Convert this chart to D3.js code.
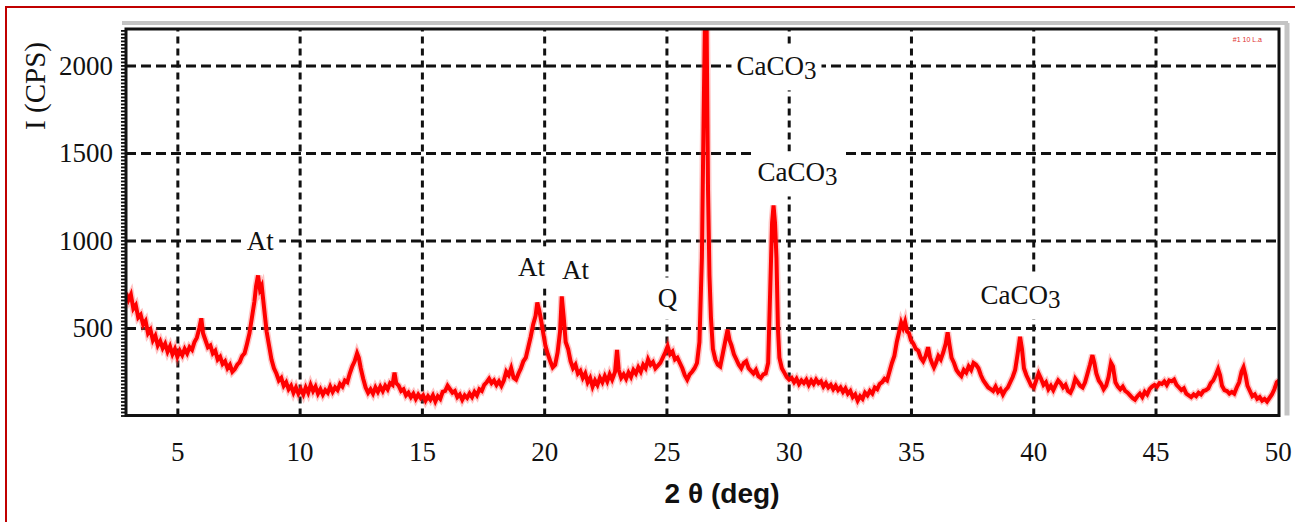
<!DOCTYPE html>
<html>
<head>
<meta charset="utf-8">
<script src="https://cdn.jsdelivr.net/npm/d3@7"></script>
<style>
  body { margin: 0; background: #fff; }
  svg { display: block; }
</style>
</head>
<body>
<div id="chart"></div>
<script>
// XRD scan: [2 theta (deg), intensity (CPS)]
const scan = [
  [2.90, 700], [3.00, 660], [3.10, 690], [3.20, 610], [3.30, 630], [3.40, 560], [3.50, 575], [3.60, 520],
  [3.70, 540], [3.80, 470], [3.90, 490], [4.00, 430], [4.10, 455], [4.20, 400], [4.30, 425], [4.40, 385],
  [4.50, 410], [4.60, 365], [4.70, 395], [4.80, 350], [4.90, 380], [5.00, 335], [5.10, 370], [5.20, 345],
  [5.30, 380], [5.40, 355], [5.50, 390], [5.60, 375], [5.70, 420], [5.80, 445], [5.90, 500], [5.98, 555],
  [6.05, 470], [6.15, 430], [6.25, 390], [6.35, 400], [6.45, 355], [6.55, 370], [6.65, 320], [6.75, 335],
  [6.85, 295], [6.95, 310], [7.05, 270], [7.15, 290], [7.25, 250], [7.35, 265], [7.45, 290], [7.55, 305],
  [7.65, 340], [7.75, 355], [7.85, 410], [7.95, 470], [8.05, 560], [8.15, 650], [8.22, 740], [8.30, 800],
  [8.38, 720], [8.45, 740], [8.55, 610], [8.65, 480], [8.75, 400], [8.85, 320], [8.95, 270], [9.05, 240],
  [9.15, 200], [9.25, 215], [9.35, 170], [9.45, 190], [9.55, 150], [9.65, 170], [9.75, 130], [9.85, 160],
  [9.95, 125], [10.05, 150], [10.15, 120], [10.25, 160], [10.35, 130], [10.45, 175], [10.55, 140], [10.65, 165],
  [10.75, 125], [10.85, 150], [10.95, 120], [11.05, 145], [11.15, 130], [11.25, 165], [11.35, 135], [11.45, 160],
  [11.55, 145], [11.65, 180], [11.75, 165], [11.85, 200], [11.95, 190], [12.05, 240], [12.15, 280], [12.25, 310],
  [12.35, 355], [12.42, 330], [12.50, 270], [12.60, 210], [12.70, 160], [12.80, 130], [12.90, 150], [13.00, 125],
  [13.10, 160], [13.20, 135], [13.30, 165], [13.40, 140], [13.50, 170], [13.60, 150], [13.70, 185], [13.80, 175],
  [13.88, 245], [13.95, 185], [14.05, 170], [14.15, 140], [14.25, 150], [14.35, 115], [14.45, 130], [14.55, 105],
  [14.65, 125], [14.75, 95], [14.85, 120], [14.95, 100], [15.05, 115], [15.15, 85], [15.25, 110], [15.35, 90],
  [15.45, 115], [15.55, 80], [15.65, 110], [15.75, 95], [15.85, 135], [15.95, 140], [16.05, 170], [16.15, 150],
  [16.25, 130], [16.35, 140], [16.45, 105], [16.55, 120], [16.65, 90], [16.75, 115], [16.85, 100], [16.95, 125],
  [17.05, 105], [17.15, 135], [17.25, 115], [17.35, 150], [17.45, 140], [17.55, 175], [17.65, 190], [17.75, 210],
  [17.85, 185], [17.95, 200], [18.05, 175], [18.15, 195], [18.25, 170], [18.35, 200], [18.45, 250], [18.55, 230],
  [18.65, 270], [18.75, 215], [18.85, 205], [18.95, 240], [19.05, 270], [19.15, 310], [19.25, 330], [19.35, 390],
  [19.45, 450], [19.55, 520], [19.65, 570], [19.72, 645], [19.80, 600], [19.88, 540], [19.95, 480], [20.05, 400],
  [20.15, 350], [20.25, 310], [20.35, 275], [20.45, 290], [20.55, 360], [20.65, 480], [20.72, 680], [20.80, 560],
  [20.88, 420], [20.98, 380], [21.08, 310], [21.18, 270], [21.28, 290], [21.38, 240], [21.48, 255], [21.58, 215],
  [21.68, 240], [21.78, 190], [21.88, 215], [21.98, 165], [22.08, 200], [22.18, 175], [22.28, 215], [22.38, 190],
  [22.48, 225], [22.58, 195], [22.68, 235], [22.78, 205], [22.90, 250], [22.98, 375], [23.05, 260], [23.15, 215],
  [23.25, 235], [23.35, 210], [23.45, 245], [23.55, 220], [23.65, 260], [23.75, 240], [23.85, 275], [23.95, 250],
  [24.05, 290], [24.15, 270], [24.25, 320], [24.35, 290], [24.45, 305], [24.55, 270], [24.65, 285], [24.75, 300],
  [24.85, 330], [24.95, 360], [25.05, 395], [25.15, 350], [25.25, 365], [25.35, 320], [25.45, 330], [25.55, 300],
  [25.65, 270], [25.75, 230], [25.85, 205], [25.95, 235], [26.05, 250], [26.15, 270], [26.25, 300], [26.35, 420],
  [26.45, 900], [26.52, 1700], [26.58, 2300], [26.64, 2300], [26.70, 1300], [26.76, 800], [26.82, 560], [26.90, 380],
  [27.00, 320], [27.10, 290], [27.20, 280], [27.30, 350], [27.40, 420], [27.50, 490], [27.58, 430], [27.66, 400],
  [27.76, 350], [27.86, 320], [27.96, 290], [28.06, 270], [28.16, 300], [28.26, 310], [28.36, 270], [28.46, 255],
  [28.56, 240], [28.66, 260], [28.76, 225], [28.86, 215], [28.96, 235], [29.06, 240], [29.16, 300], [29.24, 700],
  [29.32, 1100], [29.38, 1200], [29.44, 1100], [29.50, 900], [29.56, 500], [29.62, 330], [29.72, 270], [29.82, 245],
  [29.92, 220], [30.02, 205], [30.12, 215], [30.22, 190], [30.32, 210], [30.42, 180], [30.52, 200], [30.62, 185],
  [30.72, 205], [30.82, 175], [30.92, 200], [31.02, 180], [31.12, 205], [31.22, 185], [31.32, 195], [31.42, 165],
  [31.52, 185], [31.62, 160], [31.72, 175], [31.82, 150], [31.92, 170], [32.02, 145], [32.12, 160], [32.22, 135],
  [32.32, 155], [32.42, 125], [32.52, 140], [32.62, 105], [32.72, 120], [32.82, 85], [32.92, 110], [33.02, 95],
  [33.12, 130], [33.22, 115], [33.32, 140], [33.42, 125], [33.52, 160], [33.62, 150], [33.72, 180], [33.82, 190],
  [33.92, 210], [34.02, 200], [34.12, 250], [34.22, 300], [34.32, 340], [34.42, 420], [34.52, 480], [34.60, 530],
  [34.68, 500], [34.76, 535], [34.84, 480], [34.92, 470], [35.00, 430], [35.10, 410], [35.20, 380], [35.30, 370],
  [35.40, 330], [35.50, 310], [35.60, 340], [35.70, 390], [35.78, 330], [35.86, 300], [35.94, 275], [36.02, 300],
  [36.12, 340], [36.22, 320], [36.32, 360], [36.42, 410], [36.50, 475], [36.58, 400], [36.66, 330], [36.76, 300],
  [36.86, 260], [36.96, 240], [37.06, 225], [37.16, 260], [37.26, 245], [37.36, 280], [37.46, 260], [37.56, 300],
  [37.66, 290], [37.76, 270], [37.86, 230], [37.96, 200], [38.06, 180], [38.16, 160], [38.26, 150], [38.36, 140],
  [38.46, 165], [38.56, 135], [38.66, 150], [38.76, 120], [38.86, 145], [38.96, 160], [39.06, 190], [39.16, 220],
  [39.26, 260], [39.36, 350], [39.46, 450], [39.54, 380], [39.62, 270], [39.72, 230], [39.82, 200], [39.92, 170],
  [40.02, 160], [40.12, 200], [40.22, 240], [40.32, 210], [40.42, 175], [40.52, 190], [40.62, 150], [40.72, 170],
  [40.82, 145], [40.92, 175], [41.02, 200], [41.12, 185], [41.22, 160], [41.32, 175], [41.42, 140], [41.52, 130],
  [41.62, 160], [41.72, 210], [41.82, 190], [41.92, 170], [42.02, 160], [42.12, 190], [42.22, 240], [42.32, 290],
  [42.42, 345], [42.50, 300], [42.58, 240], [42.68, 200], [42.78, 180], [42.88, 150], [42.98, 170], [43.08, 220],
  [43.18, 300], [43.26, 280], [43.36, 190], [43.46, 165], [43.56, 150], [43.66, 165], [43.76, 140], [43.86, 130],
  [43.96, 115], [44.06, 100], [44.16, 90], [44.26, 110], [44.36, 125], [44.46, 105], [44.56, 135], [44.66, 120],
  [44.76, 150], [44.86, 165], [44.96, 175], [45.06, 165], [45.16, 185], [45.26, 180], [45.36, 195], [45.46, 175],
  [45.56, 200], [45.66, 195], [45.76, 205], [45.86, 175], [45.96, 160], [46.06, 145], [46.16, 155], [46.26, 125],
  [46.36, 115], [46.46, 105], [46.56, 120], [46.66, 110], [46.76, 130], [46.86, 120], [46.96, 140], [47.06, 145],
  [47.16, 155], [47.26, 185], [47.36, 200], [47.46, 230], [47.56, 265], [47.64, 230], [47.72, 170], [47.82, 145],
  [47.92, 140], [48.02, 125], [48.12, 135], [48.22, 125], [48.32, 160], [48.42, 190], [48.52, 250], [48.60, 275],
  [48.68, 230], [48.76, 170], [48.86, 140], [48.96, 110], [49.06, 120], [49.16, 95], [49.26, 105], [49.36, 85],
  [49.46, 95], [49.56, 80], [49.66, 100], [49.76, 120], [49.86, 150], [49.96, 190], [50.05, 200],
];

const xTicks = [5, 10, 15, 20, 25, 30, 35, 40, 45, 50];
const yTicks = [500, 1000, 1500, 2000];

// phase labels, anchored at (2 theta, CPS) of their centre
const phaseNames = ['At', 'At', 'At', 'Q', 'CaCO', 'CaCO', 'CaCO'];
const phaseTheta = [8.39, 19.48, 21.28, 25.04, 29.5, 30.36, 39.48];
const phaseCps = [997, 849, 831, 671, 1997, 1391, 689];

const W = 1295;
const H = 522;
const plotL = 126;
const plotT = 29;
const plotR = 1279;
const plotB = 415.5;

const serif = '"Liberation Serif", "Times New Roman", serif';

const svg = d3.select('#chart')
  .append('svg')
  .attr('width', W)
  .attr('height', H)
  .style('background', '#fff');

const x = d3.scaleLinear().domain([2.9, 50.05]).range([plotL, plotR]);
const y = d3.scaleLinear().domain([0, 2208]).range([plotB, plotT]);

// outer red frame (only top and left show in the crop)
svg.append('line').attr('x1', 5).attr('x2', W).attr('y1', 7).attr('y2', 7)
  .attr('stroke', '#c00000').attr('stroke-width', 2);
svg.append('line').attr('x1', 6).attr('x2', 6).attr('y1', 7).attr('y2', H)
  .attr('stroke', '#c00000').attr('stroke-width', 2);

// grey shadow round the plot box
svg.append('line').attr('x1', plotL - 4).attr('x2', plotR + 9).attr('y1', 23).attr('y2', 23)
  .attr('stroke', '#c4c4c4').attr('stroke-width', 4);
svg.append('line').attr('x1', plotR + 8).attr('x2', plotR + 8).attr('y1', 23).attr('y2', plotB)
  .attr('stroke', '#c4c4c4').attr('stroke-width', 5);

// dashed grid
const grid = svg.append('g').attr('class', 'grid');
grid.append('g')
  .attr('transform', `translate(0,${plotB})`)
  .call(d3.axisBottom(x).tickValues(xTicks.filter((v) => v < 50)).tickSize(-(plotB - plotT)).tickFormat(''))
  .call((g) => g.select('.domain').remove())
  .selectAll('line')
  .attr('stroke', '#111')
  .attr('stroke-width', 3)
  .attr('stroke-dasharray', '7,5');
grid.append('g')
  .attr('transform', `translate(${plotL},0)`)
  .call(d3.axisLeft(y).tickValues(yTicks).tickSize(-(plotR - plotL)).tickFormat(''))
  .call((g) => g.select('.domain').remove())
  .selectAll('line')
  .attr('stroke', '#111')
  .attr('stroke-width', 3)
  .attr('stroke-dasharray', '10,5');

// phase labels with white boxes that break the grid
const labels = svg.append('g').attr('class', 'labels');
phaseNames.forEach((name, i) => {
  const g = labels.append('g')
    .attr('transform', `translate(${x(phaseTheta[i])},${y(phaseCps[i])})`);
  const box = g.append('rect').attr('fill', '#fff');
  const t = g.append('text')
    .attr('text-anchor', 'middle')
    .attr('dy', '0.35em')
    .style('font-family', serif)
    .style('font-size', '27px')
    .attr('fill', '#111');
  t.append('tspan').text(name);
  if (name === 'CaCO') {
    t.append('tspan').attr('dy', 4).style('font-size', '25px').text('3');
  }
  const bb = t.node().getBBox();
  box.attr('x', bb.x - 5).attr('y', bb.y - 6)
    .attr('width', bb.width + 10).attr('height', bb.height + 12);
});

// the scan itself
svg.append('clipPath').attr('id', 'plotClip')
  .append('rect')
  .attr('x', plotL).attr('y', plotT)
  .attr('width', plotR - plotL).attr('height', plotB - plotT);

const line = d3.line()
  .x((d) => x(d[0]))
  .y((d) => y(d[1]));

const curve = svg.append('g').attr('clip-path', 'url(#plotClip)');
curve.append('path')
  .datum(scan)
  .attr('d', line)
  .attr('fill', 'none')
  .attr('stroke', '#ff5a5a')
  .attr('stroke-opacity', 0.35)
  .attr('stroke-width', 7)
  .attr('stroke-linejoin', 'miter');
curve.append('path')
  .datum(scan)
  .attr('d', line)
  .attr('fill', 'none')
  .attr('stroke', '#f00')
  .attr('stroke-width', 4)
  .attr('stroke-linejoin', 'miter');

// y axis: fine ruler ticks plus labels
svg.append('g')
  .attr('transform', `translate(${plotL},0)`)
  .call(d3.axisLeft(y).tickValues(d3.range(0, 2201, 20)).tickSize(5).tickFormat(''))
  .call((g) => g.select('.domain').remove())
  .selectAll('line')
  .attr('stroke', '#111')
  .attr('stroke-width', 1.8);

svg.append('g')
  .attr('transform', `translate(${plotL},0)`)
  .call(d3.axisLeft(y).tickValues(yTicks).tickSize(0).tickPadding(13).tickFormat(d3.format('d')))
  .call((g) => g.select('.domain').remove())
  .selectAll('text')
  .style('font-family', serif)
  .style('font-size', '27px')
  .attr('fill', '#111');

svg.append('g')
  .attr('transform', `translate(0,${plotB})`)
  .call(d3.axisBottom(x).tickValues(xTicks).tickSize(0).tickPadding(26).tickFormat(d3.format('d')))
  .call((g) => g.select('.domain').remove())
  .selectAll('text')
  .style('font-family', serif)
  .style('font-size', '27px')
  .attr('fill', '#111');

// black plot frame
svg.append('rect')
  .attr('x', plotL).attr('y', plotT)
  .attr('width', plotR - plotL).attr('height', plotB - plotT)
  .attr('fill', 'none')
  .attr('stroke', '#111')
  .attr('stroke-width', 3);

// axis titles
svg.append('text')
  .attr('transform', 'translate(45,86) rotate(-90)')
  .attr('text-anchor', 'middle')
  .style('font-family', serif)
  .style('font-size', '29px')
  .attr('fill', '#111')
  .text('I (CPS)');

svg.append('text')
  .attr('x', 722)
  .attr('y', 503)
  .attr('text-anchor', 'middle')
  .attr('textLength', 115)
  .attr('lengthAdjust', 'spacingAndGlyphs')
  .style('font-family', '"Liberation Sans", Arial, sans-serif')
  .style('font-weight', 'bold')
  .style('font-size', '27px')
  .attr('fill', '#111')
  .text('2 θ (deg)');

// tiny instrument tag in the top right corner
svg.append('text')
  .attr('x', 1262)
  .attr('y', 42)
  .attr('text-anchor', 'end')
  .style('font-family', '"Liberation Sans", Arial, sans-serif')
  .style('font-size', '7px')
  .attr('fill', '#e03030')
  .text('#1 10 L.a');
</script>
</body>
</html>
